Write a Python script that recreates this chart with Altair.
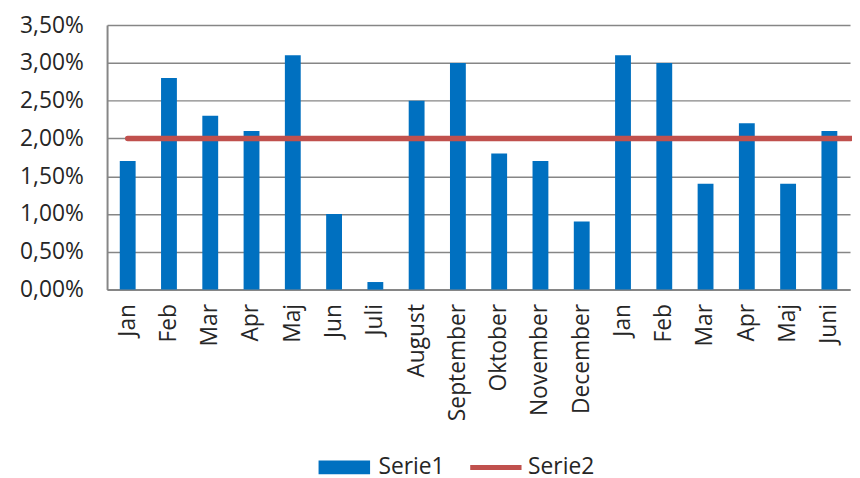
import altair as alt
import pandas as pd

labels = ["Jan", "Feb", "Mar", "Apr", "Maj", "Jun", "Juli", "August", "September",
          "Oktober", "November", "December", "Jan", "Feb", "Mar", "Apr", "Maj", "Juni"]
serie1 = [1.7, 2.8, 2.3, 2.1, 3.1, 1.0, 0.1, 2.5, 3.0, 1.8, 1.7, 0.9, 3.1, 3.0, 1.4, 2.2, 1.4, 2.1]
serie2_value = 2.0
y_ticks = [0, 0.005, 0.01, 0.015, 0.02, 0.025, 0.03, 0.035]

W, H = 750, 267
FONT = "Open Sans"
FS = 23
TXT = "#262626"

bars_df = pd.DataFrame({
    "idx": list(range(len(labels))),
    "value": [v / 100 for v in serie1],
    "series": ["Serie1"] * len(labels),
})
line_df = pd.DataFrame({"idx": [0], "value": [serie2_value / 100], "series": ["Serie2"]})

label_expr = "[" + ",".join("'" + l + "'" for l in labels) + "][datum.value]"

# legend symbols: 14px nominal symbol, path extended to the right to draw a 52px swatch
fill = alt.Fill(
    "series:N",
    scale=alt.Scale(domain=["Serie1"], range=["#0070C0"]),
    legend=alt.Legend(
        title=None, orient="none", direction="horizontal",
        legendX=209, legendY=435,
        symbolType="M-1,-1H6.43V1H-1Z", symbolSize=196, symbolStrokeWidth=0,
        labelFont=FONT, labelFontSize=FS, labelColor=TXT, labelOffset=42,
    ),
)
stroke = alt.Stroke(
    "series:N",
    scale=alt.Scale(domain=["Serie2"], range=["#C0504D"]),
    legend=alt.Legend(
        title=None, orient="none", direction="horizontal",
        legendX=360, legendY=435,
        symbolType="M-0.7,0H6.7", symbolSize=196, symbolStrokeWidth=5,
        labelFont=FONT, labelFontSize=FS, labelColor=TXT, labelOffset=42,
    ),
)

x = alt.X(
    "idx:O",
    scale=alt.Scale(paddingInner=0, paddingOuter=0),
    axis=alt.Axis(title=None, labelAngle=-90, labelExpr=label_expr, ticks=False,
                  labelPadding=14, labelFont=FONT, labelFontSize=FS, labelColor=TXT,
                  domainColor="#868686", domainWidth=2),
)
y = alt.Y(
    "value:Q",
    scale=alt.Scale(domain=[0, 0.035], nice=False),
    axis=alt.Axis(title=None, values=y_ticks, ticks=False, labelOverlap=False,
                  labelExpr="replace(format(datum.value, '.2%'), '.', ',')",
                  labelPadding=24, labelFont=FONT, labelFontSize=FS, labelColor=TXT,
                  grid=True, gridColor="#868686", gridWidth=1.5,
                  domainColor="#868686", domainWidth=2),
)

bars = alt.Chart(bars_df).mark_bar(width=16, strokeWidth=0).encode(
    x=x, y=y, fill=fill
)
line = alt.Chart(line_df).mark_rule(strokeWidth=5.5, strokeCap="round").encode(
    x=alt.X("idx:O", bandPosition=0.5), x2=alt.value(W + 1), y=y, stroke=stroke
)

chart = alt.layer(bars, line).properties(
    width=W, height=H,
    autosize=alt.AutoSizeParams(type="none"),
    padding={"left": 100, "top": 15, "right": 2, "bottom": 194},
).configure_view(stroke=None)

chart.save("out.html", embed_options={"renderer": "svg", "actions": False})
